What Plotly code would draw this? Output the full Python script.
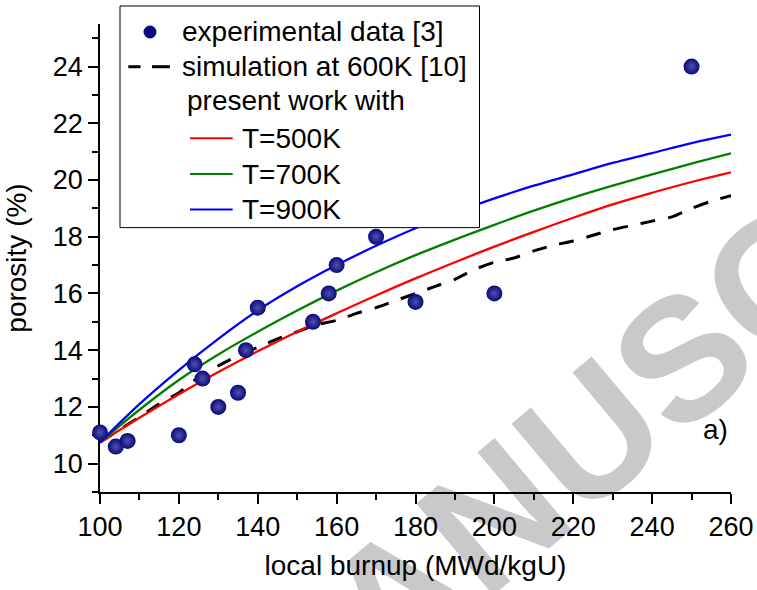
import plotly.graph_objects as go

# Measured porosity vs. local burnup
burnup_exp = [100, 104, 107, 120, 124, 126, 130, 135, 137, 140, 154, 158, 160, 170, 180, 200, 250]
porosity_exp = [11.1, 10.6, 10.8, 11.0, 13.5, 13.0, 12.0, 12.5, 14.0, 15.5, 15.0, 16.0, 17.0, 18.0, 15.7, 16.0, 24.0]

# Reference simulation at 600 K
burnup_sim = [100, 105, 110, 115, 120, 125, 130, 135, 140, 145, 150, 155, 160, 165, 170, 175, 180,
              185, 190, 195, 200, 205, 210, 215, 220, 225, 230, 235, 240, 245, 250, 255, 260]
porosity_sim = [10.75, 11.2, 11.65, 12.1, 12.5, 13.05, 13.45, 13.8, 14.1, 14.4, 14.65, 14.9, 15.05,
                15.3, 15.5, 15.75, 16.0, 16.25, 16.5, 16.85, 17.1, 17.25, 17.5, 17.7, 17.85, 18.05,
                18.25, 18.4, 18.55, 18.7, 19.0, 19.25, 19.45]

# Present model at three temperatures
burnup_model = [100, 110, 120, 130, 140, 150, 160, 170, 180, 190, 200, 210, 220, 230, 240, 250, 260]
porosity_500K = [10.75, 11.62, 12.45, 13.23, 13.96, 14.65, 15.3, 15.93, 16.53, 17.1, 17.65, 18.17,
                 18.67, 19.14, 19.55, 19.93, 20.27]
porosity_700K = [10.75, 11.9, 12.95, 13.85, 14.65, 15.4, 16.1, 16.75, 17.35, 17.9, 18.42, 18.92,
                 19.38, 19.8, 20.2, 20.58, 20.94]
porosity_900K = [10.75, 12.1, 13.3, 14.4, 15.4, 16.25, 17.0, 17.68, 18.3, 18.85, 19.35, 19.8, 20.2,
                 20.6, 20.95, 21.3, 21.6]

x_ticks = [100, 120, 140, 160, 180, 200, 220, 240, 260]
y_ticks = [10, 12, 14, 16, 18, 20, 22, 24]

FONT = "Liberation Sans, Arial, Helvetica, sans-serif"
NAVY = "#0a0a7c"

W, H = 757, 590
ML, MR, MT, MB = 100, 26, 24, 98.3
PW, PH = W - ML - MR, H - MT - MB


def px(xp):
    return (xp - ML) / PW


def py(yp):
    return (H - MB - yp) / PH


fig = go.Figure()

fig.add_trace(go.Scatter(
    x=burnup_sim, y=porosity_sim, mode="lines",
    line=dict(color="black", width=3, dash="15px,13px", shape="spline", smoothing=0.6),
    name="simulation at 600K [10]", showlegend=False))

for ys, col, nm in [(porosity_500K, "#ff0000", "T=500K"),
                    (porosity_700K, "#008000", "T=700K"),
                    (porosity_900K, "#0000ff", "T=900K")]:
    fig.add_trace(go.Scatter(
        x=burnup_model, y=ys, mode="lines",
        line=dict(color=col, width=2.3, shape="spline", smoothing=1.0),
        name=nm, showlegend=False))

fig.add_trace(go.Scatter(
    x=burnup_exp, y=porosity_exp, mode="markers",
    marker=dict(size=16, color=NAVY, line=dict(width=0),
                gradient=dict(type="radial", color="#5050ac")),
    cliponaxis=False, name="experimental data [3]", showlegend=False))

shapes = []
annotations = []

# Watermark text behind the plot
wx, wy = 672, 345
shapes.append(dict(
    type="rect", xref="paper", yref="paper",
    x0=px(wx) - 0.001, x1=px(wx) + 0.001, y0=py(wy) - 0.001, y1=py(wy) + 0.001,
    line=dict(width=0), fillcolor="rgba(0,0,0,0)", layer="below",
    label=dict(text="<b>MANUSCRIPT</b>", textangle=-40, textposition="middle center",
               font=dict(family=FONT, size=174, color="#c9c9cb"))))

# Legend frame
shapes.append(dict(type="rect", xref="paper", yref="paper",
                   x0=px(120), x1=px(479.5), y0=py(227.5), y1=py(6),
                   line=dict(color="black", width=1), fillcolor="white", layer="above"))

# Legend symbols
shapes.append(dict(type="circle", xref="paper", yref="paper",
                   x0=px(143.5), x1=px(156.5), y0=py(38.5), y1=py(25.5),
                   line=dict(width=0), fillcolor=NAVY, layer="above"))
for a, b in [(128.3, 140.5), (152, 170)]:
    shapes.append(dict(type="line", xref="paper", yref="paper",
                       x0=px(a), x1=px(b), y0=py(66.7), y1=py(66.7),
                       line=dict(color="black", width=3), layer="above"))
for yy, col in [(138.3, "#ff0000"), (174, "#008000"), (209.3, "#0000ff")]:
    shapes.append(dict(type="line", xref="paper", yref="paper",
                       x0=px(190), x1=px(232.7), y0=py(yy), y1=py(yy),
                       line=dict(color=col, width=2), layer="above"))

legend_rows = [("experimental data [3]", 180, 31.7),
               ("simulation at 600K [10]", 180, 66.7),
               ("present work with", 185, 100),
               ("T=500K", 240, 138.3),
               ("T=700K", 240, 174),
               ("T=900K", 240, 209.3)]
for txt, lx, ly in legend_rows:
    annotations.append(dict(text=txt, xref="paper", yref="paper", x=px(lx), y=py(ly),
                            xanchor="left", yanchor="middle", showarrow=False,
                            font=dict(family=FONT, size=28, color="black")))

annotations.append(dict(text="a)", xref="x", yref="y", x=256, y=11.2, showarrow=False,
                        xanchor="center", yanchor="middle",
                        font=dict(family=FONT, size=28, color="black")))

fig.update_layout(
    width=W, height=H,
    margin=dict(l=ML, r=MR, t=MT, b=MB, pad=0, autoexpand=False),
    paper_bgcolor="white", plot_bgcolor="rgba(0,0,0,0)",
    showlegend=False,
    font=dict(family=FONT, size=28, color="black"),
    shapes=shapes, annotations=annotations,
    xaxis=dict(range=[100, 260], tickvals=x_ticks, ticktext=[str(v) for v in x_ticks],
               showline=True, linecolor="black", linewidth=1.5, mirror=False,
               ticks="outside", ticklen=10, tickwidth=1.5, tickcolor="black",
               minor=dict(dtick=10, tick0=100, ticks="outside", ticklen=6, tickwidth=1.5,
                          tickcolor="black"),
               showgrid=False, zeroline=False, layer="below traces", automargin=False,
               tickfont=dict(family=FONT, size=27),
               title=dict(text="local burnup (MWd/kgU)", font=dict(family=FONT, size=28),
                          standoff=14)),
    yaxis=dict(range=[9, 25.5], tickvals=y_ticks, ticktext=[str(v) for v in y_ticks],
               showline=True, linecolor="black", linewidth=1.5, mirror=False,
               ticks="outside", ticklen=10, tickwidth=1.5, tickcolor="black",
               minor=dict(dtick=1, tick0=9, ticks="outside", ticklen=6, tickwidth=1.5,
                          tickcolor="black"),
               showgrid=False, zeroline=False, layer="below traces", automargin=False,
               tickfont=dict(family=FONT, size=27),
               title=dict(text="porosity (%)", font=dict(family=FONT, size=28), standoff=18)),
)

fig.write_html("out.html")
